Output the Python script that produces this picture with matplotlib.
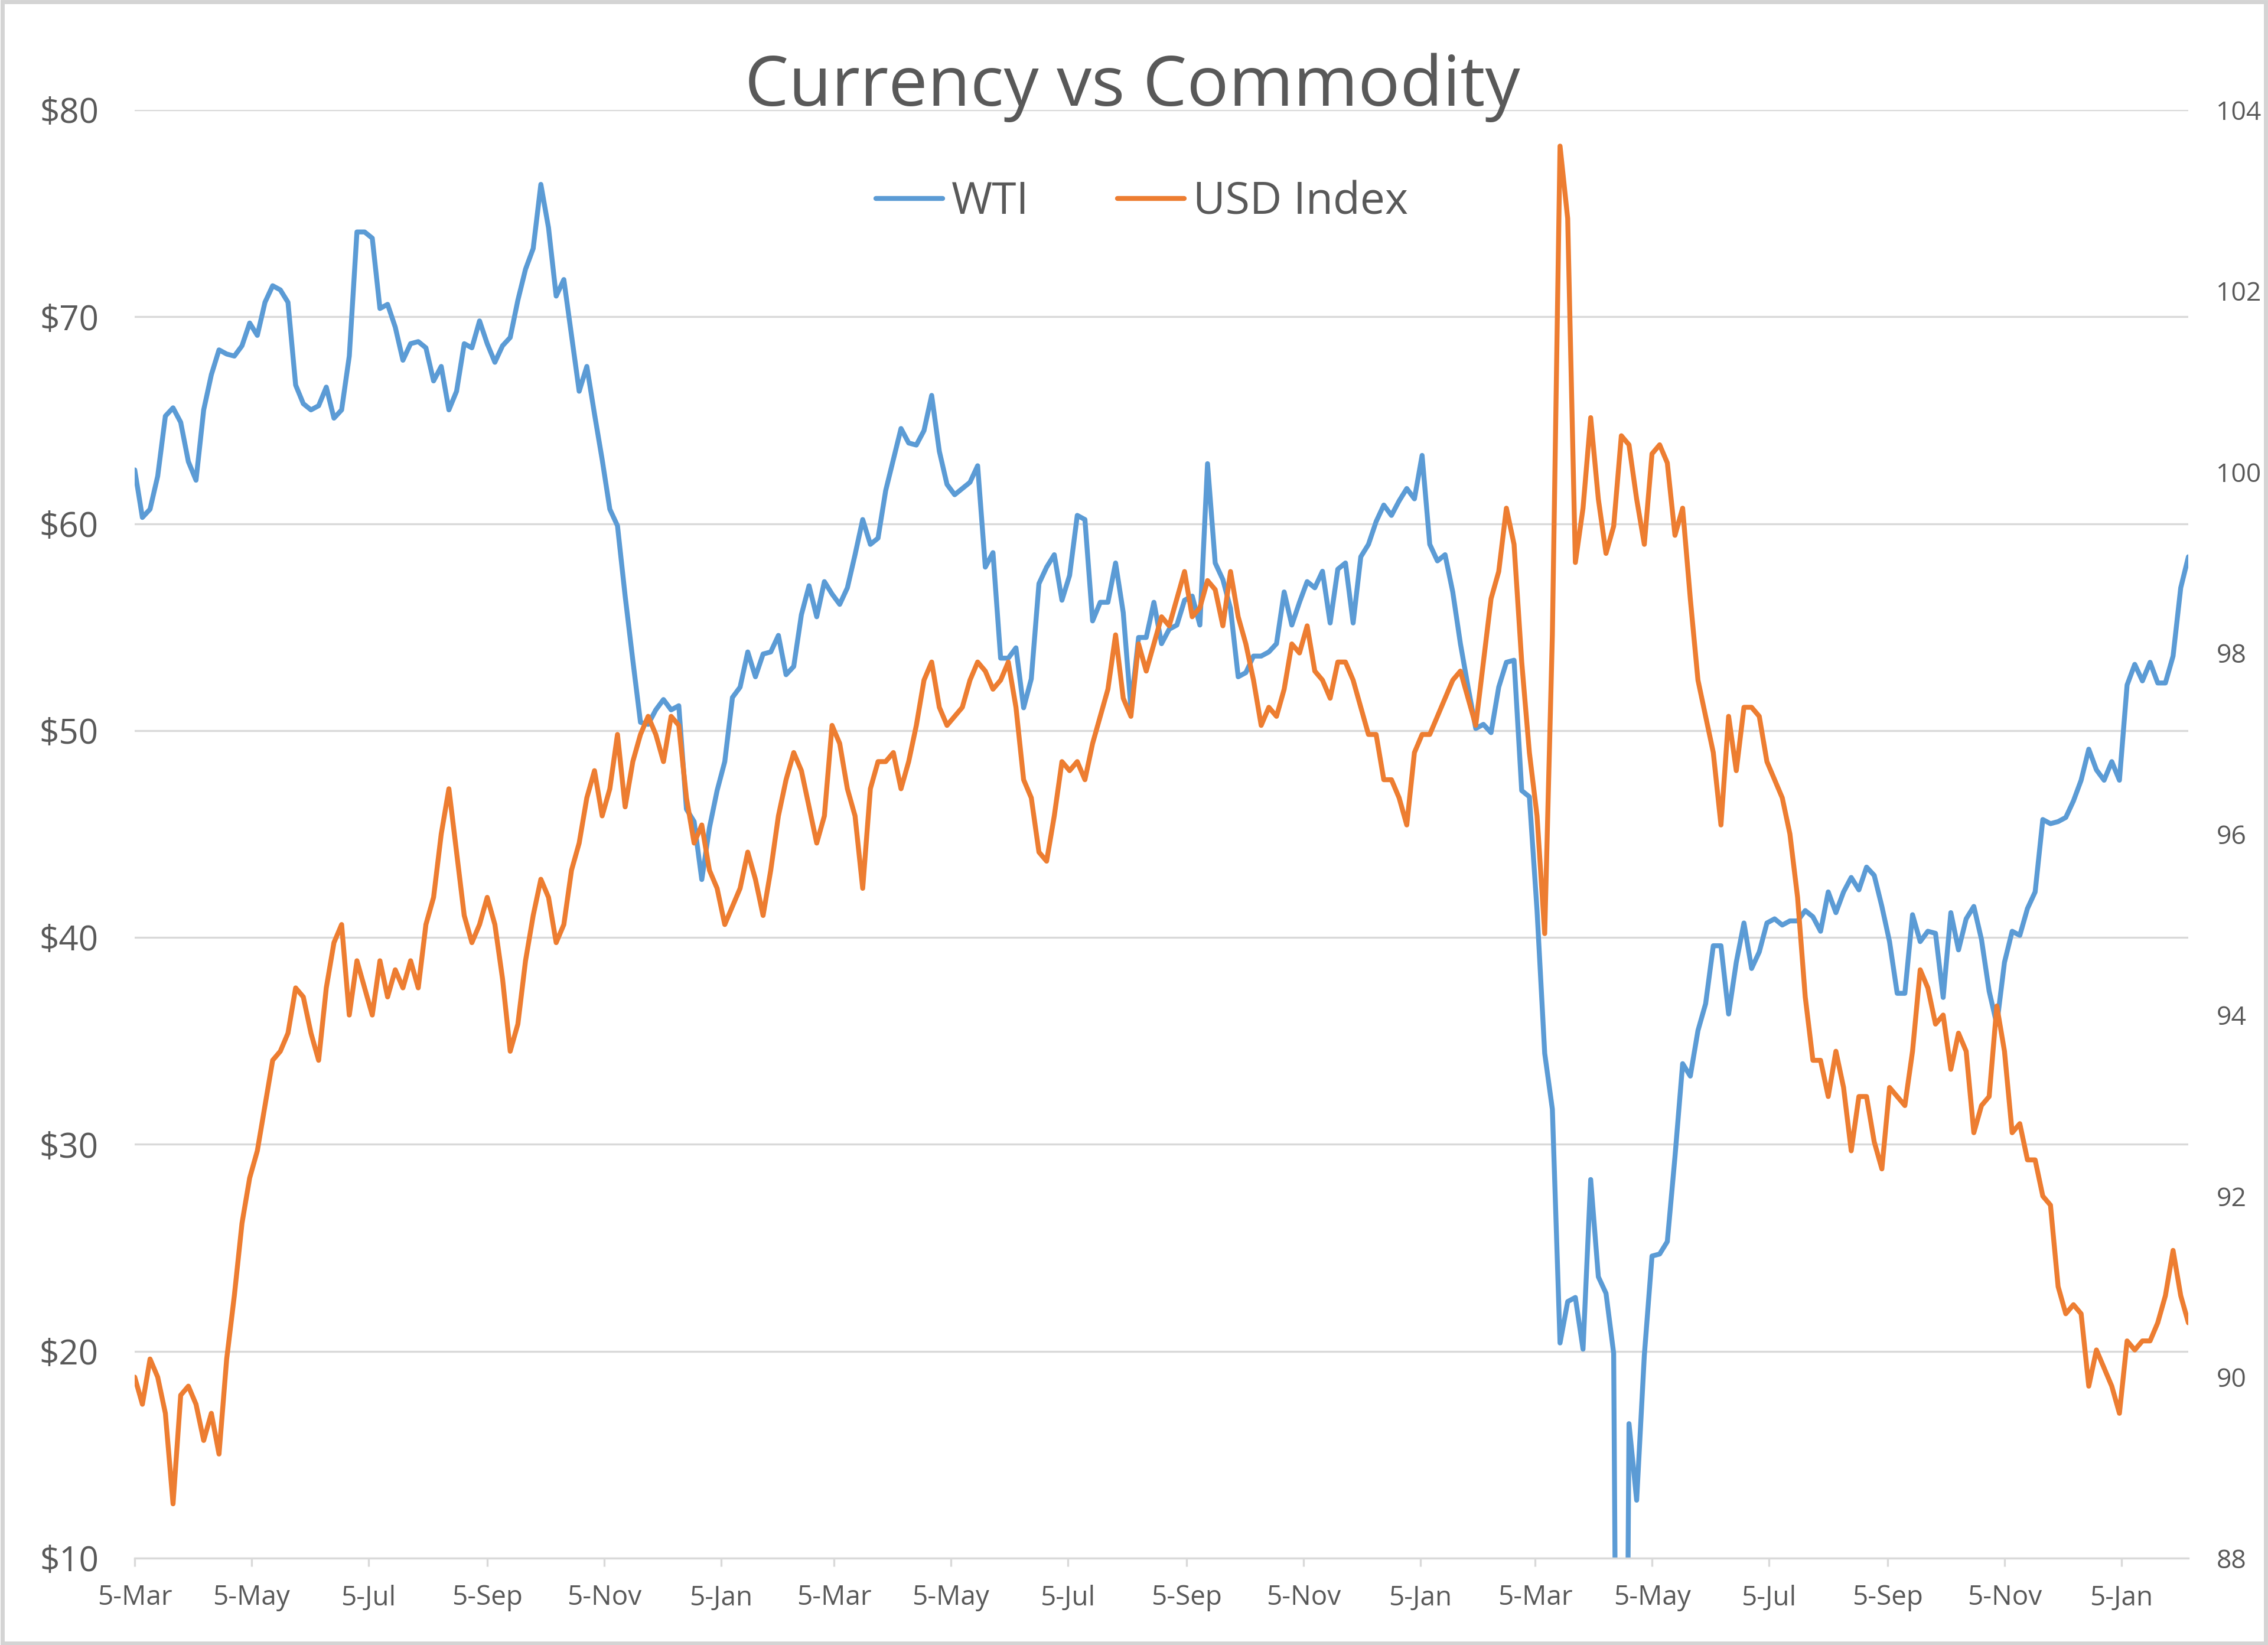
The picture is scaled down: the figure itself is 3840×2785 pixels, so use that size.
import pandas as pd
import matplotlib
matplotlib.use("Agg")
import matplotlib.pyplot as plt
from matplotlib.ticker import FuncFormatter
from matplotlib.patches import Rectangle

plt.rcParams['font.family'] = ['Open Sans', 'DejaVu Sans']

# observations every 4 days, 5-Mar-2018 .. 9-Feb-2021
dates = pd.date_range("2018-03-05", periods=269, freq="4D")

# WTI crude, $/bbl (left axis); the April 2020 value is off the scale
wti = [
    62.6, 60.3, 60.7, 62.3, 65.2, 65.6, 64.9, 63.0, 62.1, 65.5,
    67.2, 68.4, 68.2, 68.1, 68.6, 69.7, 69.1, 70.7, 71.5, 71.3,
    70.7, 66.7, 65.8, 65.5, 65.7, 66.6, 65.1, 65.5, 68.1, 74.1,
    74.1, 73.8, 70.4, 70.6, 69.5, 67.9, 68.7, 68.8, 68.5, 66.9,
    67.6, 65.5, 66.4, 68.7, 68.5, 69.8, 68.7, 67.8, 68.6, 69.0,
    70.8, 72.3, 73.3, 76.4, 74.3, 71.0, 71.8, 69.1, 66.4, 67.6,
    65.3, 63.1, 60.7, 59.9, 56.5, 53.4, 50.4, 50.3, 51.0, 51.5,
    51.0, 51.2, 46.2, 45.6, 42.8, 45.3, 47.1, 48.5, 51.6, 52.1,
    53.8, 52.6, 53.7, 53.8, 54.6, 52.7, 53.1, 55.6, 57.0, 55.5,
    57.2, 56.6, 56.1, 56.9, 58.5, 60.2, 59.0, 59.3, 61.6, 63.1,
    64.6, 63.9, 63.8, 64.5, 66.2, 63.5, 61.9, 61.4, 61.7, 62.0,
    62.8, 57.9, 58.6, 53.5, 53.5, 54.0, 51.1, 52.5, 57.1, 57.9,
    58.5, 56.3, 57.5, 60.4, 60.2, 55.3, 56.2, 56.2, 58.1, 55.7,
    51.1, 54.5, 54.5, 56.2, 54.2, 54.9, 55.1, 56.3, 56.5, 55.1,
    62.9, 58.1, 57.3, 55.9, 52.6, 52.8, 53.6, 53.6, 53.8, 54.2,
    56.7, 55.1, 56.2, 57.2, 56.9, 57.7, 55.2, 57.8, 58.1, 55.2,
    58.4, 59.0, 60.1, 60.9, 60.4, 61.1, 61.7, 61.2, 63.3, 59.0,
    58.2, 58.5, 56.7, 54.2, 52.1, 50.1, 50.3, 49.9, 52.1, 53.3,
    53.4, 47.1, 46.8, 41.3, 34.4, 31.7, 20.4, 22.4, 22.6, 20.1,
    28.3, 23.6, 22.8, 19.9, -37.6, 16.5, 12.8, 19.8, 24.6, 24.7,
    25.3, 29.4, 33.9, 33.3, 35.5, 36.8, 39.6, 39.6, 36.3, 38.8,
    40.7, 38.5, 39.3, 40.7, 40.9, 40.6, 40.8, 40.8, 41.3, 41.0,
    40.3, 42.2, 41.2, 42.2, 42.9, 42.3, 43.4, 43.0, 41.5, 39.8,
    37.3, 37.3, 41.1, 39.8, 40.3, 40.2, 37.1, 41.2, 39.4, 40.9,
    41.5, 39.9, 37.4, 35.8, 38.8, 40.3, 40.1, 41.4, 42.2, 45.7,
    45.5, 45.6, 45.8, 46.6, 47.6, 49.1, 48.1, 47.6, 48.5, 47.6,
    52.2, 53.2, 52.4, 53.3, 52.3, 52.3, 53.6, 56.9, 58.4,
]

# US dollar index (right axis)
usd = [
    90.0, 89.7, 90.2, 90.0, 89.6, 88.6, 89.8, 89.9, 89.7, 89.3,
    89.6, 89.15, 90.2, 90.9, 91.7, 92.2, 92.5, 93.0, 93.5, 93.6,
    93.8, 94.3, 94.2, 93.8, 93.5, 94.3, 94.8, 95.0, 94.0, 94.6,
    94.3, 94.0, 94.6, 94.2, 94.5, 94.3, 94.6, 94.3, 95.0, 95.3,
    96.0, 96.5, 95.8, 95.1, 94.8, 95.0, 95.3, 95.0, 94.4, 93.6,
    93.9, 94.6, 95.1, 95.5, 95.3, 94.8, 95.0, 95.6, 95.9, 96.4,
    96.7, 96.2, 96.5, 97.1, 96.3, 96.8, 97.1, 97.3, 97.1, 96.8,
    97.3, 97.2, 96.4, 95.9, 96.1, 95.6, 95.4, 95.0, 95.2, 95.4,
    95.8, 95.5, 95.1, 95.6, 96.2, 96.6, 96.9, 96.7, 96.3, 95.9,
    96.2, 97.2, 97.0, 96.5, 96.2, 95.4, 96.5, 96.8, 96.8, 96.9,
    96.5, 96.8, 97.2, 97.7, 97.9, 97.4, 97.2, 97.3, 97.4, 97.7,
    97.9, 97.8, 97.6, 97.7, 97.9, 97.4, 96.6, 96.4, 95.8, 95.7,
    96.2, 96.8, 96.7, 96.8, 96.6, 97.0, 97.3, 97.6, 98.2, 97.5,
    97.3, 98.1, 97.8, 98.1, 98.4, 98.3, 98.6, 98.9, 98.4, 98.5,
    98.8, 98.7, 98.3, 98.9, 98.4, 98.1, 97.7, 97.2, 97.4, 97.3,
    97.6, 98.1, 98.0, 98.3, 97.8, 97.7, 97.5, 97.9, 97.9, 97.7,
    97.4, 97.1, 97.1, 96.6, 96.6, 96.4, 96.1, 96.9, 97.1, 97.1,
    97.3, 97.5, 97.7, 97.8, 97.5, 97.2, 97.9, 98.6, 98.9, 99.6,
    99.2, 97.9, 96.9, 96.2, 94.9, 98.2, 103.6, 102.8, 99.0, 99.6,
    100.6, 99.7, 99.1, 99.4, 100.4, 100.3, 99.7, 99.2, 100.2, 100.3,
    100.1, 99.3, 99.6, 98.6, 97.7, 97.3, 96.9, 96.1, 97.3, 96.7,
    97.4, 97.4, 97.3, 96.8, 96.6, 96.4, 96.0, 95.3, 94.2, 93.5,
    93.5, 93.1, 93.6, 93.2, 92.5, 93.1, 93.1, 92.6, 92.3, 93.2,
    93.1, 93.0, 93.6, 94.5, 94.3, 93.9, 94.0, 93.4, 93.8, 93.6,
    92.7, 93.0, 93.1, 94.1, 93.6, 92.7, 92.8, 92.4, 92.4, 92.0,
    91.9, 91.0, 90.7, 90.8, 90.7, 89.9, 90.3, 90.1, 89.9, 89.6,
    90.4, 90.3, 90.4, 90.4, 90.6, 90.9, 91.4, 90.9, 90.6,
]

# x ticks on the 5th of every second month
tick_dates = pd.date_range("2018-03-01", "2021-01-01", freq="2MS") + pd.Timedelta(days=4)

grey = '#595959'
grid_col = '#d9d9d9'

fig = plt.figure(figsize=(19.2, 13.925), dpi=200)
ax = fig.add_axes([0.0594, 0.0528, 0.9055, 0.8804])
ax2 = ax.twinx()

line_kw = dict(lw=3.0, solid_joinstyle='round', solid_capstyle='round')
l1, = ax.plot(dates, wti, color='#5B9BD5', label='WTI', **line_kw)
l2, = ax2.plot(dates, usd, color='#ED7D31', label='USD Index', **line_kw)

ax.set_xlim(dates[0], dates[-1])
ax.set_ylim(10, 80)
ax.set_yticks(range(10, 81, 10))
ax.yaxis.set_major_formatter(FuncFormatter(lambda v, p: f"${v:.0f}"))
ax2.set_ylim(88, 104)
ax2.set_yticks(range(88, 105, 2))

ax.set_xticks(tick_dates)
ax.set_xticklabels([f"{d.day}-{d.strftime('%b')}" for d in tick_dates])

ax.yaxis.grid(True, color=grid_col, lw=1.2)
ax.set_axisbelow(True)
for s in ['top', 'left', 'right']:
    ax.spines[s].set_visible(False)
    ax2.spines[s].set_visible(False)
ax2.spines['bottom'].set_visible(False)
ax.spines['bottom'].set_color(grid_col)
ax.spines['bottom'].set_linewidth(1.2)

ax.tick_params(axis='y', length=0, pad=22, labelsize=21, labelcolor=grey)
ax2.tick_params(axis='y', length=0, pad=17, labelsize=16, labelcolor=grey)
ax.tick_params(axis='x', length=5, width=1.2, color=grid_col, pad=11,
               labelsize=16.5, labelcolor=grey)

fig.text(0.4994, 0.9358, 'Currency vs Commodity', ha='center', va='baseline',
         fontsize=42.5, color=grey)

fig.legend(handles=[l1, l2], loc='center', bbox_to_anchor=(0.5035, 0.877),
           ncol=2, frameon=False, fontsize=27, handlelength=1.5,
           handletextpad=0.2, columnspacing=2.0, labelcolor=grey)

fig.patches.append(Rectangle((0.001, 0.001), 0.998, 0.998, transform=fig.transFigure,
                             fill=False, edgecolor='#d4d4d4', lw=2.5))

fig.savefig('out.png', dpi=200, facecolor='white')
